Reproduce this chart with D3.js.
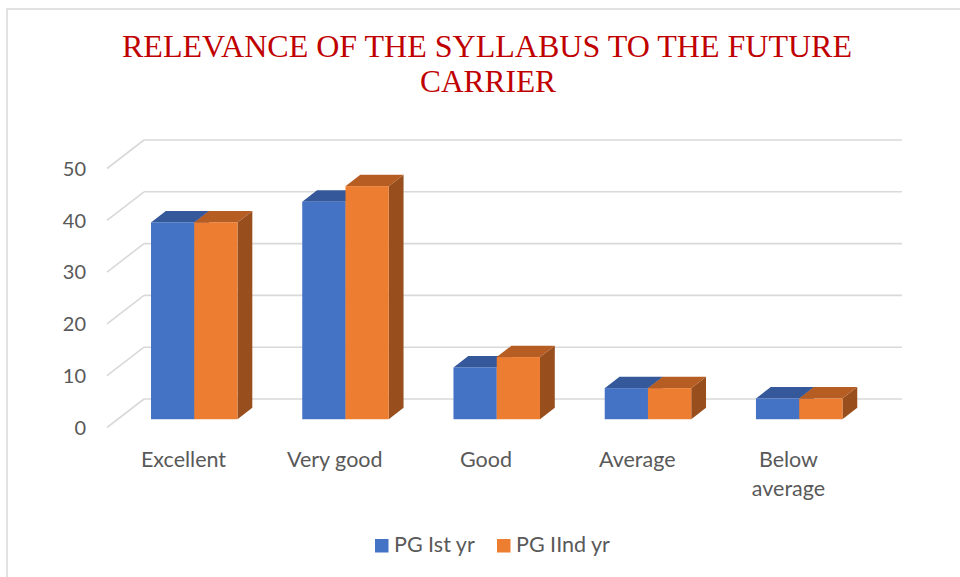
<!DOCTYPE html>
<html>
<head>
<meta charset="utf-8">
<script src="https://cdn.jsdelivr.net/npm/d3@7"></script>
<style>
  body { margin: 0; background: #fff; }
  svg { display: block; }
</style>
</head>
<body>
<svg id="chart" width="960" height="577"></svg>
<script>
const categories = ['Excellent', 'Very good', 'Good', 'Average', 'Below average'];
const seriesNames = ['PG Ist yr', 'PG IInd yr'];
const pgFirst = [38, 42, 10, 6, 4];
const pgSecond = [38, 45, 12, 6, 4];
const yTicks = [0, 10, 20, 30, 40, 50];

const svg = d3.select('#chart');

// colours: front / top / side for each series
const colors = [
    { front: '#4472C4', top: '#34589A', side: '#2F5290' },
    { front: '#ED7D31', top: '#B55D22', side: '#984E1D' }
];

// 3d frame: front plane (floor front edge) and depth vector to the back wall
const frontLeft = 107, frontRight = 865, frontFloor = 427.5;
const depth = { dx: 37, dy: -28.5 };
const barF0 = 0.29, barF1 = 0.69;   // bar front / back as fraction of depth

const x = d3.scaleBand()
    .domain(categories)
    .range([frontLeft, frontRight])
    .paddingInner(0.428)
    .paddingOuter(0.22);

const xSeries = d3.scaleBand()
    .domain(seriesNames)
    .range([0, x.bandwidth()]);

const h = d3.scaleLinear().domain([0, 50]).range([0, 259]);

const labelFont = 'Lato, "Open Sans", sans-serif';

// frame border
svg.append('rect')
    .attr('x', 7).attr('y', 9)
    .attr('width', 1000).attr('height', 600)
    .style('fill', 'none')
    .style('stroke', '#d9d9d9')
    .style('stroke-width', 1.5);

// title
const title = svg.append('text')
    .attr('text-anchor', 'middle')
    .style('font-family', '"Liberation Serif", "Times New Roman", serif')
    .style('font-size', '32px')
    .style('fill', '#C00000');
title.append('tspan').attr('x', 487).attr('y', 57)
    .attr('textLength', 730).attr('lengthAdjust', 'spacingAndGlyphs')
    .text('RELEVANCE OF THE SYLLABUS TO THE FUTURE');
title.append('tspan').attr('x', 488).attr('y', 92)
    .attr('textLength', 136).attr('lengthAdjust', 'spacingAndGlyphs')
    .text('CARRIER');

// gridlines: back wall + slanted floor-to-wall lines on the left
const grid = svg.append('g')
    .style('stroke', '#d9d9d9')
    .style('stroke-width', 1.6)
    .style('fill', 'none');

yTicks.forEach(function(t){
    const yf = frontFloor - h(t);
    grid.append('line')
        .attr('x1', frontLeft + depth.dx).attr('y1', yf + depth.dy)
        .attr('x2', frontRight + depth.dx).attr('y2', yf + depth.dy);
    grid.append('line')
        .attr('x1', frontLeft).attr('y1', yf)
        .attr('x2', frontLeft + depth.dx).attr('y2', yf + depth.dy);
});

// y labels
svg.append('g').selectAll('text')
    .data(yTicks)
    .join('text')
    .attr('x', 86)
    .attr('y', d => frontFloor - h(d))
    .attr('dy', '0.36em')
    .attr('text-anchor', 'end')
    .style('font-family', labelFont)
    .style('font-size', '20px')
    .style('fill', '#595959')
    .text(d => d);

// bars
const bars = svg.append('g');
const ox = barF0 * depth.dx, oy = barF0 * depth.dy;
const ddx = (barF1 - barF0) * depth.dx, ddy = (barF1 - barF0) * depth.dy;

categories.forEach(function(cat, i){
    [pgFirst, pgSecond].forEach(function(values, s){
        const x0 = x(cat) + xSeries(seriesNames[s]) + ox;
        const x1 = x0 + xSeries.bandwidth();
        const yb = frontFloor + oy;
        const yt = yb - h(values[i]);
        const c = colors[s];

        // side
        bars.append('path')
            .attr('d', `M${x1},${yb} L${x1 + ddx},${yb + ddy} L${x1 + ddx},${yt + ddy} L${x1},${yt} Z`)
            .style('fill', c.side);
        // top
        bars.append('path')
            .attr('d', `M${x0},${yt} L${x1},${yt} L${x1 + ddx},${yt + ddy} L${x0 + ddx},${yt + ddy} Z`)
            .style('fill', c.top);
        // front
        bars.append('rect')
            .attr('x', x0).attr('y', yt)
            .attr('width', x1 - x0).attr('height', yb - yt)
            .style('fill', c.front);
    });
});

// x labels
const xl = svg.append('g').selectAll('text')
    .data(categories)
    .join('text')
    .attr('text-anchor', 'middle')
    .style('font-family', labelFont)
    .style('font-size', '21.5px')
    .style('fill', '#595959');

xl.each(function(d){
    const cx = x(d) + x.bandwidth() / 2;
    const words = d === 'Below average' ? ['Below', 'average'] : [d];
    words.forEach(function(w, k){
        d3.select(this).append('tspan')
            .attr('x', cx)
            .attr('y', 466.5 + k * 29)
            .text(w);
    }, this);
});

// legend
const legend = svg.append('g');
const legendX = [375, 497];
seriesNames.forEach(function(name, s){
    legend.append('rect')
        .attr('x', legendX[s]).attr('y', 539)
        .attr('width', 13.5).attr('height', 13.5)
        .style('fill', colors[s].front);
    legend.append('text')
        .attr('x', legendX[s] + 19).attr('y', 552)
        .style('font-family', labelFont)
        .style('font-size', '21.5px')
        .style('fill', '#595959')
        .text(name);
});
</script>
</body>
</html>
